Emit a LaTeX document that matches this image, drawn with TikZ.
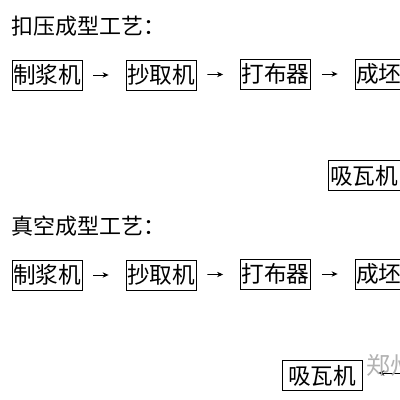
\documentclass[tikz,border=0pt]{standalone}
\usepackage{fontspec}
\newfontfamily\cjk{Noto Sans CJK SC}
\usetikzlibrary{arrows.meta}
\tikzset{box/.style = {draw, line width=0.6pt, inner sep=0, minimum height=22.5pt,
                       minimum width=52.5pt, font=\cjk\fontsize{17}{17}\selectfont}}
\tikzset{title/.style = {anchor=west, inner sep=0, font=\cjk\fontsize{16.5}{16.5}\selectfont}}
\tikzset{flow/.style = {-{Stealth[length=4.5pt,width=4pt]}, line width=0.6pt,
                        shorten <=8.25pt, shorten >=12.75pt}}

\begin{document}
\begin{tikzpicture}[x=0.75pt, y=-0.75pt]
    \useasboundingbox (0,0) rectangle (400,400);
    \fill[white] (0,0) rectangle (400,400);
    \clip (0,0) rectangle (400,400);

    % pressing line
    \node[title] (t1) at (11,26) {扣压成型工艺：};
    \node[box] (a1) at (47,75) {制浆机};
    \node[box] (a2) at (161,75) {抄取机};
    \node[box] (a3) at (275.5,74) {打布器};
    \node[box] (a4) at (390,74) {成坯机};
    \node[box, minimum width=54pt] (a5) at (364,175.5) {吸瓦机};
    \draw[flow] (a1) -- (a2);
    \draw[flow] (a2) -- (a3);
    \draw[flow] (a3) -- (a4);

    % vacuum line
    \node[title] (t2) at (11,226) {真空成型工艺：};
    \node[box] (b1) at (47,275) {制浆机};
    \node[box] (b2) at (161,275) {抄取机};
    \node[box] (b3) at (275.5,274) {打布器};
    \node[box] (b4) at (390,274) {成坯机};
    \node[box, minimum width=60pt] (b5) at (322,375.5) {吸瓦机};
    \draw[flow] (b1) -- (b2);
    \draw[flow] (b2) -- (b3);
    \draw[flow] (b3) -- (b4);
    \coordinate (b6) at (430,373);
    \draw[flow, shorten <=0pt, shorten >=12pt] (b6) -- (b5.east |- b6);

    \node[anchor=west, inner sep=0, text=black!30, font=\cjk\fontsize{18}{18}\selectfont]
        (mark) at (366,365) {郑州};
\end{tikzpicture}
\end{document}
